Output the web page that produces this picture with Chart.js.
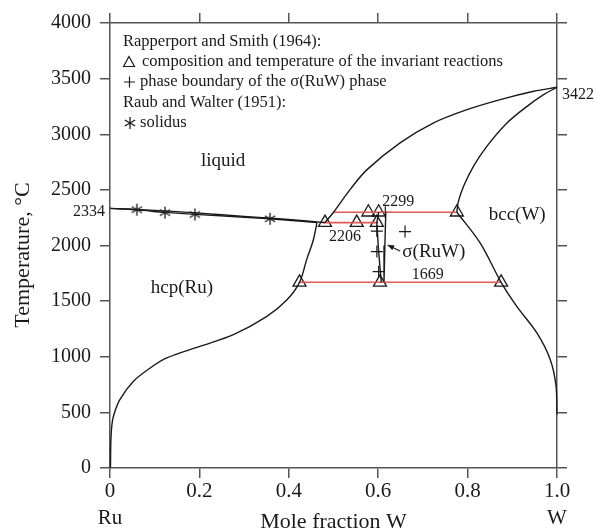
<!DOCTYPE html>
<html>
<head>
<meta charset="utf-8">
<script src="https://cdn.jsdelivr.net/npm/chart.js@4.4.0/dist/chart.umd.min.js"></script>
<style>
  html, body { margin: 0; padding: 0; background: #fff; }
  canvas { display: block; }
</style>
</head>
<body>
<canvas id="c" width="598" height="531"></canvas>
<script>
// Ru–W binary phase diagram (mole fraction W vs temperature, °C)

// axis ticks
const xTickValues = [0, 0.2, 0.4, 0.6, 0.8, 1.0];
const xTickLabels = ['0', '0.2', '0.4', '0.6', '0.8', '1.0'];
const xEndNames = ['Ru', 'W'];
const yTickValues = [0, 500, 1000, 1500, 2000, 2500, 3000, 3500, 4000];

// hcp(Ru) solvus
const hcpSolvusX = [0.001, 0.002, 0.004, 0.008, 0.022, 0.052, 0.090, 0.127, 0.201, 0.276, 0.351, 0.396, 0.424, 0.440, 0.455, 0.463];
const hcpSolvusT = [0, 250, 380, 470, 614, 778, 899, 989, 1093, 1198, 1363, 1513, 1669, 1873, 2052, 2206];

// Ru-side liquidus and solidus
const ruLiquidusX = [0, 0.1, 0.2, 0.3, 0.4, 0.481];
const ruLiquidusT = [2334, 2316, 2291, 2262, 2234, 2206];
const ruSolidusX = [0, 0.06, 0.123, 0.19, 0.358, 0.463];
const ruSolidusT = [2334, 2320, 2298, 2280, 2240, 2206];

// W-side liquidus
const wLiquidusX = [0.481, 0.500, 0.537, 0.575, 0.649, 0.724, 0.799, 0.873, 0.948, 1.0];
const wLiquidusT = [2206, 2299, 2502, 2682, 2922, 3102, 3221, 3311, 3386, 3422];

// bcc(W) solidus
const bccSolidusX = [0.776, 0.779, 0.791, 0.813, 0.843, 0.888, 0.933, 0.970, 1.0];
const bccSolidusT = [2299, 2390, 2532, 2711, 2891, 3101, 3251, 3356, 3422];

// bcc(W) solvus
const bccSolvusX = [0.776, 0.828, 0.875, 0.910, 0.955, 0.985, 0.998, 1.0];
const bccSolvusT = [2299, 2023, 1669, 1453, 1214, 974, 734, 480];

// sigma(RuW) phase boundaries
const sigmaLeftX = [0.601, 0.597, 0.600, 0.604, 0.607];
const sigmaLeftT = [2299, 2206, 2000, 1800, 1669];
const sigmaRightX = [0.617, 0.615, 0.613];
const sigmaRightT = [2299, 2000, 1669];

// invariant reactions (isotherms)
const invariantT = [2299, 2206, 1669];
const invariantFromX = [0.500, 0.475, 0.424];
const invariantToX = [0.776, 0.600, 0.875];

// Rapperport and Smith (1964): invariant-reaction compositions
const triangleX = [0.481, 0.552, 0.597, 0.578, 0.601, 0.776, 0.424, 0.604, 0.875];
const triangleT = [2206, 2206, 2206, 2299, 2299, 2299, 1669, 1669, 1669];

// Rapperport and Smith (1964): sigma phase boundary
const plusX = [0.616, 0.597, 0.597, 0.601, 0.660];
const plusT = [2299, 2130, 1945, 1765, 2125];

// Raub and Walter (1951): solidus
const starX = [0.06, 0.123, 0.19, 0.358];
const starT = [2322, 2296, 2279, 2240];

const pts = (xs, ts) => xs.map((v, i) => ({ x: v, y: ts[i] }));

const INK = '#1a1a1a';
const AXIS = '#555';
const RED = '#e05858';
const SERIF = '"Liberation Serif", "Times New Roman", serif';

// six-ray asterisk marker
function makeAsterisk(r) {
  const s = Math.ceil(r * 2 + 4);
  const cv = document.createElement('canvas');
  cv.width = s; cv.height = s;
  const g = cv.getContext('2d');
  g.strokeStyle = INK; g.lineWidth = 1.3;
  const c = s / 2;
  for (let k = 0; k < 3; k++) {
    const a = Math.PI / 2 + k * Math.PI / 3;
    g.beginPath();
    g.moveTo(c + Math.cos(a) * r, c - Math.sin(a) * r);
    g.lineTo(c - Math.cos(a) * r, c + Math.sin(a) * r);
    g.stroke();
  }
  return cv;
}
const asterisk = makeAsterisk(6);

function curve(xs, ts, tension) {
  return {
    data: pts(xs, ts), showLine: true, borderColor: INK, borderWidth: 1.4,
    pointRadius: 0, tension: tension, fill: false, clip: false
  };
}

const datasets = [
  curve(hcpSolvusX, hcpSolvusT, 0.35),
  curve(ruLiquidusX, ruLiquidusT, 0.3),
  curve(ruSolidusX, ruSolidusT, 0.3),
  curve(wLiquidusX, wLiquidusT, 0.35),
  curve(bccSolidusX, bccSolidusT, 0.35),
  curve(bccSolvusX, bccSolvusT, 0.35),
  curve(sigmaLeftX, sigmaLeftT, 0),
  curve(sigmaRightX, sigmaRightT, 0)
];
invariantT.forEach((t, i) => {
  datasets.push({
    data: [{ x: invariantFromX[i], y: t }, { x: invariantToX[i], y: t }],
    showLine: true, borderColor: RED, borderWidth: 1.6, pointRadius: 0, tension: 0
  });
});
datasets.push({
  data: pts(triangleX, triangleT), showLine: false, pointStyle: 'triangle',
  pointRadius: 7.5, borderColor: INK, borderWidth: 1.3, backgroundColor: 'rgba(0,0,0,0)'
});
datasets.push({
  data: pts(plusX, plusT), showLine: false, pointStyle: 'cross',
  pointRadius: 6, borderColor: INK, borderWidth: 1.2
});
datasets.push({
  data: pts(starX, starT), showLine: false, pointStyle: asterisk, pointRadius: 6
});

// text annotations, legend block and axis title
const notes = {
  id: 'notes',
  afterDatasetsDraw(chart) {
    const { ctx, chartArea: a, scales: { x, y } } = chart;
    const px = v => x.getPixelForValue(v);
    const py = v => y.getPixelForValue(v);
    ctx.save();
    ctx.fillStyle = INK;
    ctx.strokeStyle = INK;
    ctx.textBaseline = 'middle';
    const text = (s, X, Y, size, align) => {
      ctx.font = size + 'px ' + SERIF;
      ctx.textAlign = align || 'center';
      ctx.fillText(s, X, Y);
    };

    // region labels
    text('liquid', px(0.253), py(2755), 19);
    text('hcp(Ru)', px(0.161), py(1621), 19);
    text('bcc(W)', px(0.911), py(2277), 19);
    text('σ(RuW)', px(0.654), py(1942), 19, 'left');

    // invariant temperatures
    text('2299', px(0.609), py(2394), 16, 'left');
    text('2206', px(0.526), py(2079), 16);
    text('1669', px(0.711), py(1737), 16);
    text('2334', a.left - 5, py(2334) + 3, 16, 'right');
    text('3422', a.right + 5, py(3422) + 7, 16, 'left');

    // arrow to the sigma phase
    const x0 = px(0.649), y0 = py(1951), x1 = px(0.621), y1 = py(2004);
    ctx.lineWidth = 1.1;
    ctx.beginPath(); ctx.moveTo(x0, y0); ctx.lineTo(x1, y1); ctx.stroke();
    const ang = Math.atan2(y1 - y0, x1 - x0);
    ctx.beginPath();
    ctx.moveTo(x1, y1);
    ctx.lineTo(x1 - 7 * Math.cos(ang - 0.4), y1 - 7 * Math.sin(ang - 0.4));
    ctx.lineTo(x1 - 7 * Math.cos(ang + 0.4), y1 - 7 * Math.sin(ang + 0.4));
    ctx.closePath(); ctx.fill();

    // legend
    const lx = a.left + 13, t0 = a.top;
    text('Rapperport and Smith (1964):', lx, t0 + 18.4, 16.5, 'left');
    // triangle symbol
    ctx.lineWidth = 1.2;
    ctx.beginPath();
    const tx = lx + 6, ty = t0 + 39.5;
    ctx.moveTo(tx, ty - 6); ctx.lineTo(tx + 5.5, ty + 4); ctx.lineTo(tx - 5.5, ty + 4); ctx.closePath();
    ctx.stroke();
    text('composition and temperature of the invariant reactions', lx + 19, t0 + 38.4, 16.5, 'left');
    // plus symbol
    ctx.beginPath();
    ctx.moveTo(lx + 1, t0 + 59); ctx.lineTo(lx + 12, t0 + 59);
    ctx.moveTo(lx + 6.5, t0 + 53.5); ctx.lineTo(lx + 6.5, t0 + 64.5);
    ctx.stroke();
    text('phase boundary of the σ(RuW) phase', lx + 17, t0 + 58.4, 16.5, 'left');
    text('Raub and Walter (1951):', lx, t0 + 80, 16.5, 'left');
    ctx.drawImage(asterisk, lx + 7 - asterisk.width / 2, t0 + 100 - asterisk.height / 2);
    text('solidus', lx + 17, t0 + 100, 16.5, 'left');

    // temperature axis title
    ctx.translate(23, 255);
    ctx.rotate(-Math.PI / 2);
    text('Temperature, °C', 0, 0, 22);
    ctx.restore();
  }
};

const frame = { display: true, color: AXIS, width: 1.5 };
const ticksOnly = { display: true, drawOnChartArea: false, drawTicks: true, tickLength: 10, color: AXIS, lineWidth: 1.5 };

new Chart(document.getElementById('c'), {
  type: 'scatter',
  data: { datasets },
  options: {
    responsive: false,
    animation: false,
    devicePixelRatio: 1,
    layout: { padding: 0 },
    plugins: { legend: { display: false }, tooltip: { enabled: false } },
    scales: {
      x: {
        type: 'linear', position: 'bottom', min: 0, max: 1,
        afterBuildTicks: s => { s.ticks = xTickValues.map(v => ({ value: v })); },
        afterFit: s => { s.height = 63; },
        border: frame, grid: ticksOnly,
        ticks: {
          autoSkip: false, maxRotation: 0, padding: 0, color: INK,
          font: { family: SERIF, size: 21, lineHeight: 1.3 },
          callback: v => {
            const i = xTickValues.findIndex(t => Math.abs(t - v) < 1e-6);
            const lab = xTickLabels[i];
            if (i === 0) return [lab, xEndNames[0]];
            if (i === xTickValues.length - 1) return [lab, xEndNames[1]];
            return lab;
          }
        },
        title: {
          display: true, text: 'Mole fraction W', color: INK, padding: 0,
          font: { family: SERIF, size: 22, lineHeight: 0.8 }
        }
      },
      x2: {
        type: 'linear', position: 'top', min: 0, max: 1,
        afterBuildTicks: s => { s.ticks = xTickValues.map(v => ({ value: v })); },
        afterFit: s => { s.height = 23; },
        border: frame, grid: ticksOnly, ticks: { display: false }
      },
      y: {
        type: 'linear', position: 'left', min: 0, max: 4000,
        afterBuildTicks: s => { s.ticks = yTickValues.map(v => ({ value: v })); },
        afterFit: s => { s.width = 110; },
        border: frame, grid: ticksOnly,
        ticks: {
          padding: 9, color: INK, font: { family: SERIF, size: 20 },
          callback: v => String(v)
        }
      },
      y2: {
        type: 'linear', position: 'right', min: 0, max: 4000,
        afterBuildTicks: s => { s.ticks = yTickValues.map(v => ({ value: v })); },
        afterFit: s => { s.width = 41; },
        border: frame, grid: ticksOnly, ticks: { display: false }
      }
    }
  },
  plugins: [notes]
});
</script>
</body>
</html>
